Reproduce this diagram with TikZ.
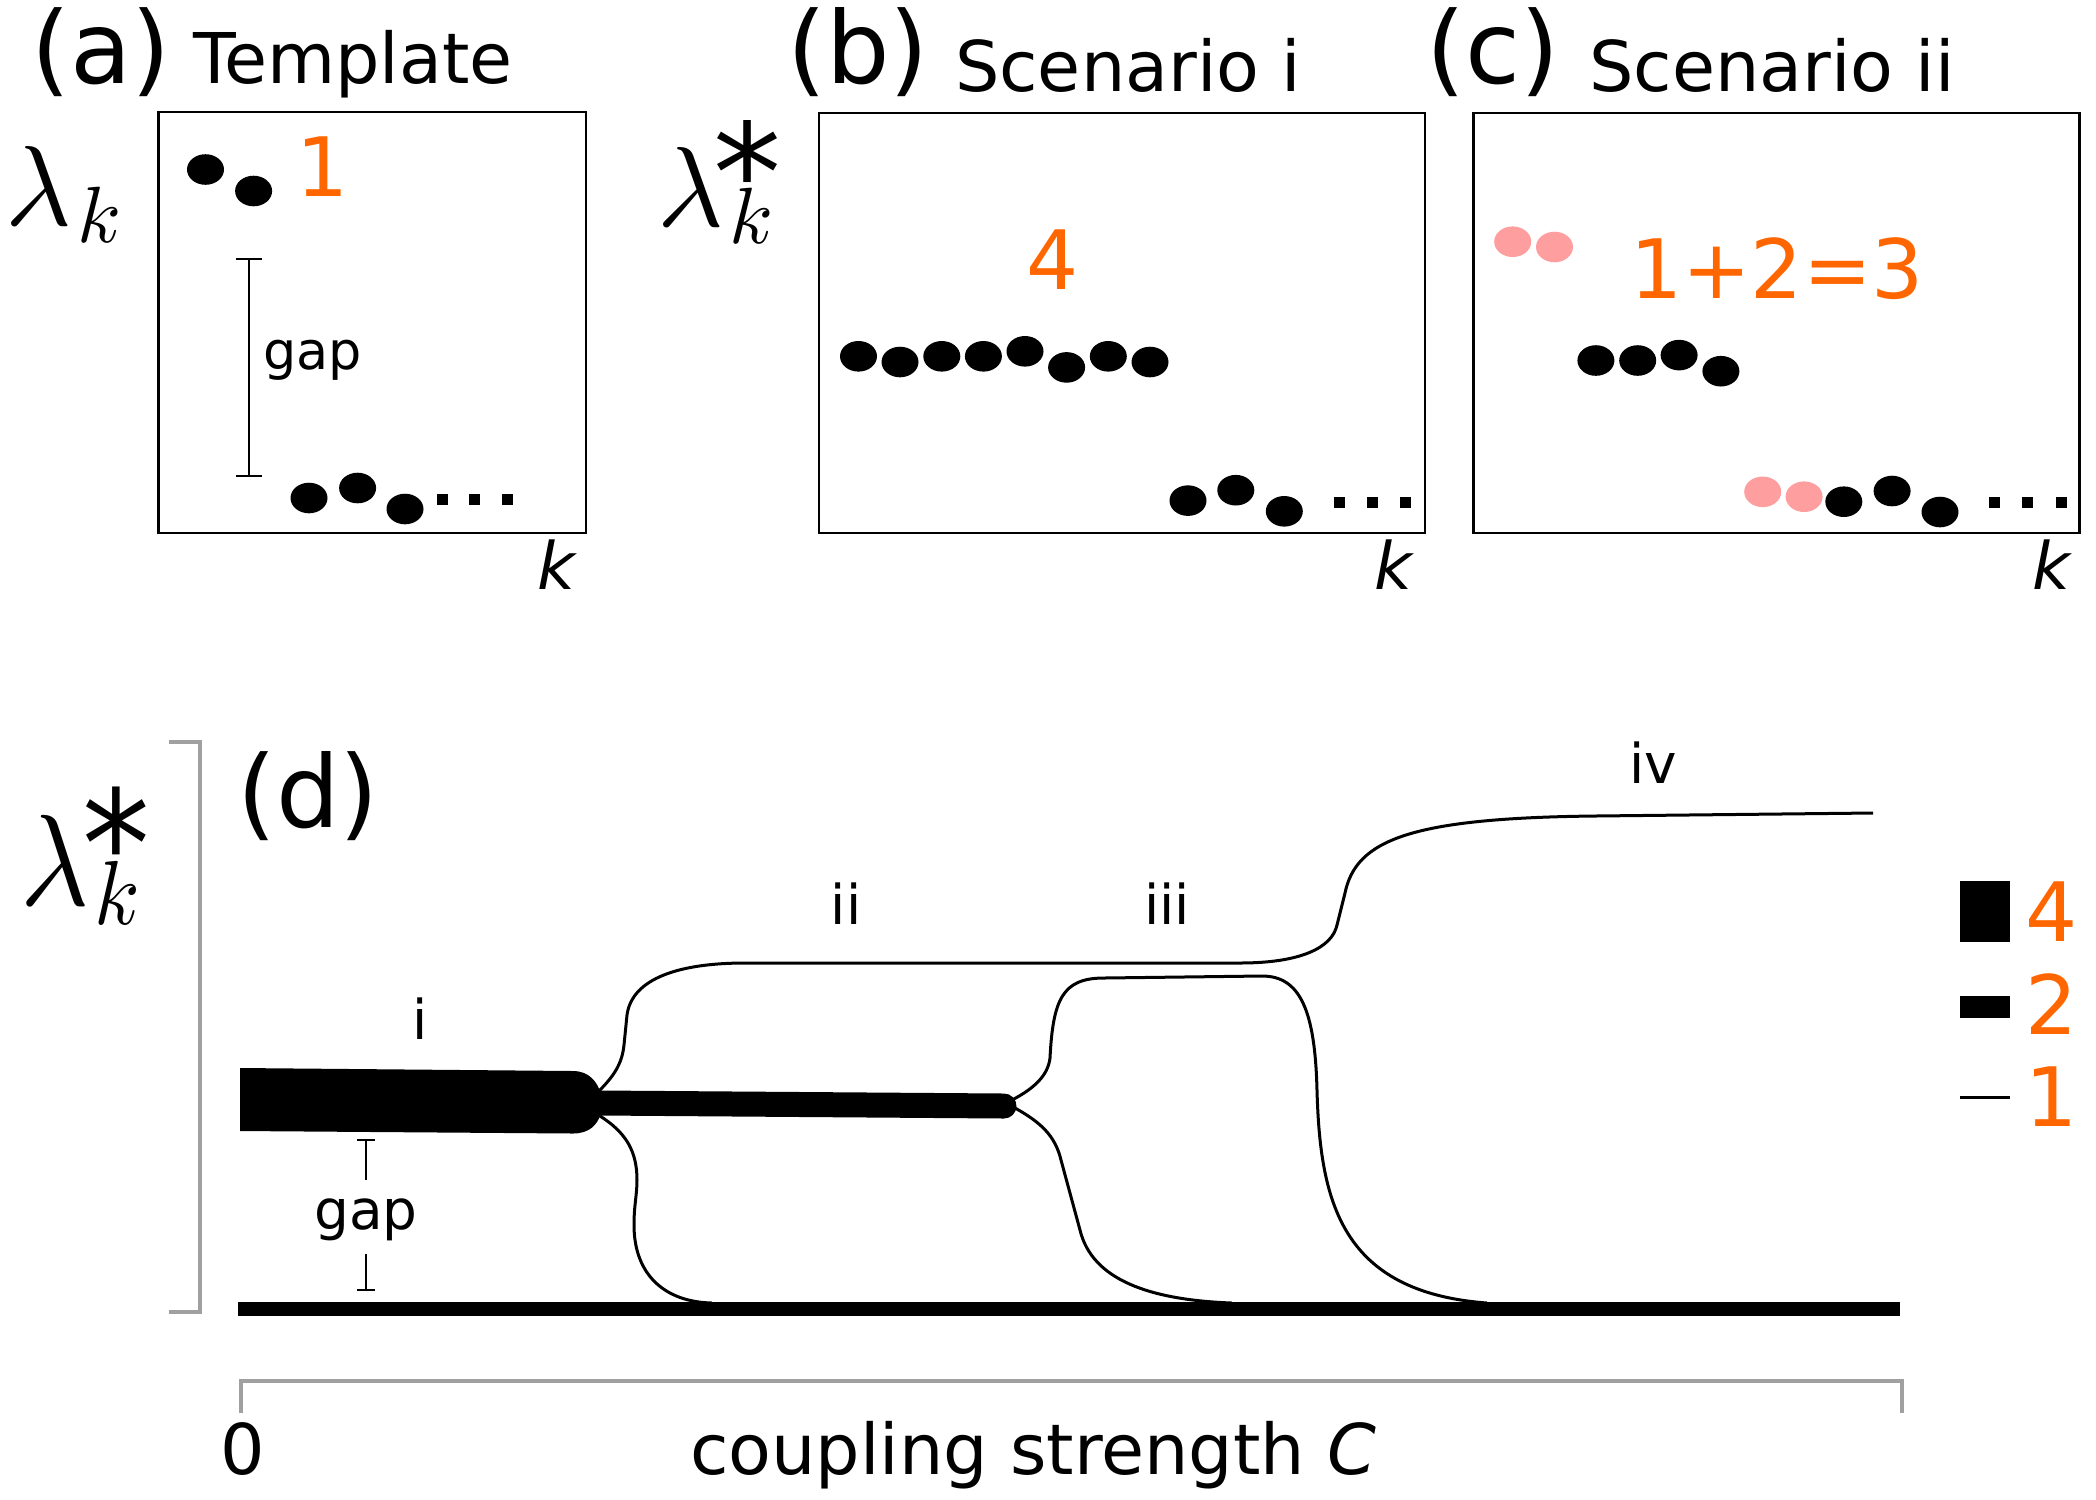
\RequirePackage{fix-cm}
\documentclass[tikz,border=0pt]{standalone}
\DeclareFontShape{OML}{cmm}{m}{it}{<->cmmi10}{\skewchar\font=127}
\usepackage{fontspec}
\setmainfont{DejaVu Sans}
\newdimen\pxu \pxu=0.01cm
\definecolor{orng}{RGB}{255,102,0}
\definecolor{pnk}{RGB}{255,158,158}
\definecolor{brk}{RGB}{160,160,160}
\newcommand\lamfont{\fontsize{32.4}{34}\selectfont}
\newcommand\starfont{\fontsize{38.7}{40}\selectfont}
\begin{document}
\begin{tikzpicture}[x=0.01cm,y=-0.01cm,
  lab/.style={inner sep=0,anchor=base,font=\fontsize{28.45}{30}\selectfont},
  ttl/.style={inner sep=0,anchor=base,font=\fontsize{19.9}{22}\selectfont},
  num/.style={inner sep=0,anchor=base,text=orng,font=\fontsize{23.3}{25}\selectfont},
  sml/.style={inner sep=0,anchor=base,font=\fontsize{15.6}{17}\selectfont},
  klab/.style={inner sep=0,anchor=base,font=\fontsize{18.6}{20}\selectfont\itshape},
  lam/.style={inner sep=0,anchor=base west},
  panel/.style={draw,line width=2.5\pxu},
  thinl/.style={line width=3\pxu},
  gapl/.style={line width=2.2\pxu},
  brack/.style={draw=brk,line width=4.5\pxu},
]
\useasboundingbox (0,0) rectangle (2096,1499);
\fill[white] (0,0) rectangle (2096,1499);

% ---------- panel titles ----------
\node[lab] (la) at (101,83) {(a)};
\node[lab] (lb) at (858,83) {(b)};
\node[lab] (lc) at (1493,83) {(c)};
\node[lab] (ld) at (308,827) {(d)};
\node[ttl] (ta) at (353,83) {Template};
\node[ttl] (tb) at (1128,91) {Scenario i};
\node[ttl] (tc) at (1772,91) {Scenario ii};

% ---------- axis labels ----------
\node[lam] (ya) at (5,225) {\lamfont$\lambda_{\kern5\pxu k}$};
\node[lam] (yb) at (657,226) {\lamfont$\lambda_{\kern5\pxu k}$\kern-61\pxu\raisebox{4.5\pxu}{\starfont *}};
\node[lam] (yd) at (20,905) {\scalebox{1}[1.1]{\fontsize{33.6}{35}\selectfont$\lambda_{\kern5\pxu k}$\kern-60\pxu\raisebox{7\pxu}{\fontsize{38.5}{40}\selectfont *}}};
\node[klab] (ka) at (556,589) {k};
\node[klab] (kb) at (1393,589) {k};
\node[klab] (kc) at (2051,589) {k};

% ---------- panel boxes ----------
\draw[panel] (158.5,112) rectangle (586,533);
\draw[panel] (819,113) rectangle (1425,533);
\draw[panel] (1473.5,113) rectangle (2079.6,533);

% ---------- dots ----------
\foreach \p in {(205.5,169.5),(253.6,191),(309,498),(357.6,488),(405,509),
  (858.5,356.3),(900,362),(941.8,356.3),(983.4,356.3),(1025,351.3),(1066.6,367.4),(1108.3,356.3),(1150,362),
  (1188,500.6),(1235.8,490.2),(1284.3,511.3),
  (1595.9,360.5),(1637.7,360.5),(1679.1,355.1),(1720.9,371.2),
  (1843.8,501.7),(1892.1,491),(1940,512)}
  \fill \p ellipse [x radius=18.5\pxu, y radius=15.3\pxu];
\foreach \p in {(1512.7,241.7),(1554.5,247),(1762.7,491.8),(1804.1,496.7)}
  \fill[pnk] \p ellipse [x radius=18.5\pxu, y radius=15.3\pxu];
% ellipsis squares
\foreach \x/\y in {442/499.4,474/499.4,507.6/499.4,1339.4/502.5,1372.4/502.5,1405.3/502.5,1994.7/502.5,2027.9/502.5,2061.1/502.5}
  \fill (\x-5.5,\y-5.5) rectangle (\x+5.5,\y+5.5);

% ---------- orange counts ----------
\node[num] (na) at (322.5,196) {1};
\node[num] (nb) at (1053,289) {4};
\node[num] (nc) at (1777,298.5) {1+2=3};

% ---------- gap in (a) ----------
\coordinate (ga1) at (249,259);
\coordinate (ga2) at (249,476);
\draw[gapl] (ga1) -- (ga2);
\draw[gapl] (236.3,259) -- (261.7,259);
\draw[gapl] (236.3,476) -- (261.7,476);
\node[sml,font=\fontsize{14.9}{16}\selectfont] (gapa) at (312.5,369) {gap};

% ---------- panel (d) ----------
% brackets
\draw[brack] (169,742) -- (200,742) -- (200,1312) -- (169,1312);
\draw[brack] (241,1413) -- (241,1381) -- (1902,1381) -- (1902,1413);
\node[ttl] (zero) at (243,1474) {0};
\node[ttl] (xlab) at (1033,1474) {coupling strength \textit{C}};

% bottom band
\draw[line width=14\pxu] (238,1309) -- (1900,1309);

% thin branches
\draw[thinl] (598,1092) .. controls (614,1076) and (622,1064) .. (624,1045)
  -- (627,1015) .. controls (632,978) and (680,963) .. (745,963)
  -- (1240,963) .. controls (1300,963) and (1332,948) .. (1337,925)
  -- (1345,893) .. controls (1356,840) and (1410,818) .. (1595,816)
  -- (1873,813);
\draw[thinl] (600,1116) .. controls (625,1132) and (637,1150) .. (637,1180)
  .. controls (637,1195) and (634,1205) .. (634,1225)
  .. controls (634,1275) and (665,1302) .. (712,1303);
\draw[thinl] (1012,1100) .. controls (1035,1088) and (1048,1075) .. (1050,1058)
  .. controls (1053,1000) and (1062,978) .. (1104,978)
  -- (1262,976) .. controls (1300,976) and (1315,1010) .. (1317,1090)
  .. controls (1320,1200) and (1340,1292) .. (1487,1303);
\draw[thinl] (1015,1108) .. controls (1040,1122) and (1055,1135) .. (1061,1160)
  -- (1080,1230) .. controls (1092,1280) and (1150,1300) .. (1232,1303);

% 2-band
\draw[line width=25\pxu,line cap=round] (600,1103) -- (1004,1106);
% 4-band
\fill (240,1068) -- (573,1071) .. controls (590,1071) and (597,1083) .. (600,1091)
  -- (600,1116) .. controls (597,1124) and (590,1133.5) .. (573,1133.5) -- (240,1131) -- cycle;

% gap in (d)
\draw[gapl] (357,1140) -- (375,1140);
\draw[gapl] (366,1140) -- (366,1180);
\draw[gapl] (366,1254) -- (366,1290);
\draw[gapl] (357,1290) -- (375,1290);
\node[sml] (gapd) at (366,1229) {gap};

% scenario labels
\node[sml] (ri) at (420.5,1039) {i};
\node[sml] (rii) at (846,924) {ii};
\node[sml] (riii) at (1167,924) {iii};
\node[sml] (riv) at (1653,783.5) {iv};

% legend
\fill (1960,881) rectangle (2010,942);
\fill (1960,996) rectangle (2010,1018);
\draw[thinl] (1960,1097) -- (2010,1097);
\node[num] (l4) at (2051.5,941) {4};
\node[num] (l2) at (2051.5,1034) {2};
\node[num] (l1) at (2051.5,1126) {1};
\end{tikzpicture}
\end{document}
